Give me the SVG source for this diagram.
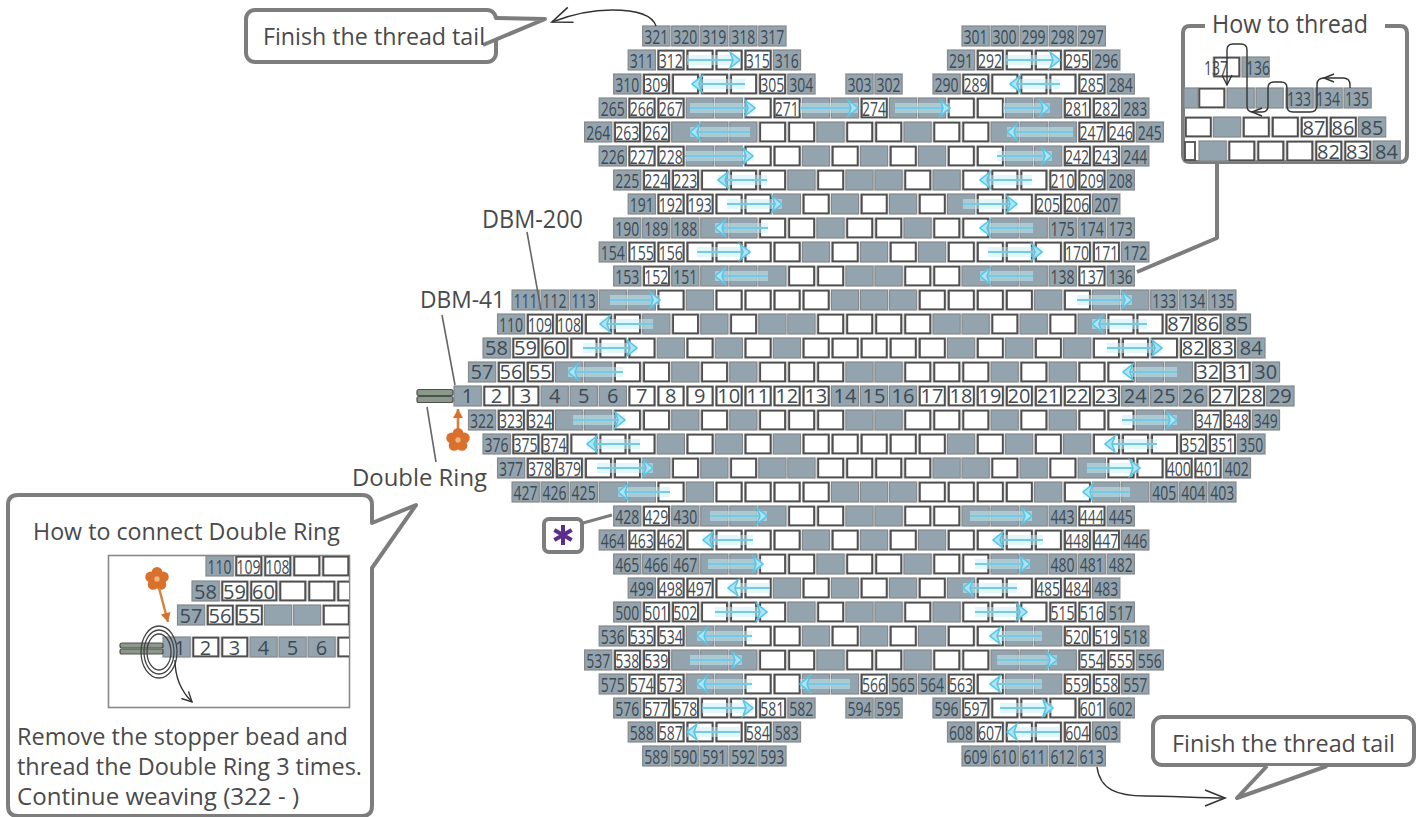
<svg xmlns="http://www.w3.org/2000/svg" width="1422" height="817" viewBox="0 0 1422 817">
<style>
.bg{fill:#94a4ae;stroke:#85898c;stroke-width:1.2}
.bh{fill:#9c9c9c}
.bw{fill:#fff;stroke:#4f4f4f;stroke-width:1.8}
.n text,.d text,text.n,text.d{font-family:"Open Sans","Noto Sans",sans-serif;fill:#3f4a53;text-anchor:middle;dominant-baseline:central}
.n text,text.n{font-size:20px;transform-box:fill-box;transform-origin:center;transform:scaleX(.7)}
.d text,text.d{font-size:20px}
.t{font-family:"Open Sans","Noto Sans",sans-serif;fill:#4a4a4a}
.cal{fill:#fff;stroke:#7d7d7d;stroke-width:4;stroke-linejoin:round}
.ld{fill:none;stroke:#666;stroke-width:1.6}
.th{fill:none;stroke:#333;stroke-width:1.4}
.band{fill:none;stroke:#c4f0fb;stroke-width:10;opacity:.5}
.line{fill:none;stroke:#74cbe6;stroke-width:2;marker-end:url(#ah)}
.or{fill:#d9702b}
.bar{fill:#8a9a88;stroke:#4f4f4f;stroke-width:1.2}
.ring{fill:none;stroke:#444;stroke-width:1.3}
</style>
<defs>
<marker id="ah" markerUnits="userSpaceOnUse" markerWidth="18" markerHeight="20" refX="13" refY="10" orient="auto"><path d="M3 2L13 10L3 18L6 10Z" fill="#a9e6f6" stroke="#5cc4e4" stroke-width="1.6"/></marker>
<marker id="oh" markerUnits="userSpaceOnUse" markerWidth="12" markerHeight="12" refX="10" refY="6" orient="auto"><path d="M1 1L10 6L1 11Z" fill="#d9702b"/></marker>
<marker id="bk" markerUnits="userSpaceOnUse" markerWidth="26" markerHeight="26" refX="22" refY="13" orient="auto"><path d="M2 5L22 13L2 21" fill="none" stroke="#333" stroke-width="1.6"/></marker>
<marker id="bks" markerUnits="userSpaceOnUse" markerWidth="14" markerHeight="14" refX="11" refY="7" orient="auto"><path d="M1 2L11 7L1 12" fill="none" stroke="#333" stroke-width="1.4"/></marker>
<clipPath id="cb"><rect x="109" y="556" width="240" height="150"/></clipPath>
<g id="fl"><g transform="scale(1.12)"><circle class="or" cy="-6" r="4.8"/><circle class="or" cx="5.7" cy="-1.85" r="4.8"/><circle class="or" cx="3.5" cy="4.85" r="4.8"/><circle class="or" cx="-3.5" cy="4.85" r="4.8"/><circle class="or" cx="-5.7" cy="-1.85" r="4.8"/><circle r="2.4" fill="#f3b57e"/></g></g>
<rect id="g" x="1" y="-10" width="27.2" height="20" class="bg"/>
<g id="w"><rect x="0.7" y="-10.5" width="28" height="21" class="bh"/><rect x="2.4" y="-9.3" width="24.8" height="18.6" class="bw"/></g>
<g id="p1"><use href="#g" x="0"/><use href="#g" x="29"/><use href="#g" x="58"/><use href="#g" x="87"/><use href="#g" x="116"/><use href="#g" x="319"/><use href="#g" x="348"/><use href="#g" x="377"/><use href="#g" x="406"/><use href="#g" x="435"/></g>
<g id="p2"><use href="#g" x="0"/><use href="#w" x="29"/><use href="#w" x="58"/><use href="#w" x="87"/><use href="#w" x="116"/><use href="#g" x="145"/><use href="#g" x="319"/><use href="#w" x="348"/><use href="#w" x="377"/><use href="#w" x="406"/><use href="#w" x="435"/><use href="#g" x="464"/></g>
<g id="p3"><use href="#g" x="0"/><use href="#w" x="29"/><use href="#w" x="58"/><use href="#w" x="87"/><use href="#w" x="116"/><use href="#w" x="145"/><use href="#g" x="174"/><use href="#g" x="232"/><use href="#g" x="261"/><use href="#g" x="319"/><use href="#w" x="348"/><use href="#w" x="377"/><use href="#w" x="406"/><use href="#w" x="435"/><use href="#w" x="464"/><use href="#g" x="493"/></g>
<g id="p4"><use href="#g" x="0"/><use href="#w" x="29"/><use href="#w" x="58"/><use href="#g" x="87"/><use href="#g" x="116"/><use href="#w" x="145"/><use href="#w" x="174"/><use href="#g" x="203"/><use href="#g" x="232"/><use href="#w" x="261"/><use href="#g" x="290"/><use href="#g" x="319"/><use href="#w" x="348"/><use href="#w" x="377"/><use href="#g" x="406"/><use href="#g" x="435"/><use href="#w" x="464"/><use href="#w" x="493"/><use href="#g" x="522"/></g>
<g id="p5"><use href="#g" x="0"/><use href="#w" x="29"/><use href="#w" x="58"/><use href="#g" x="87"/><use href="#g" x="116"/><use href="#g" x="145"/><use href="#w" x="174"/><use href="#w" x="203"/><use href="#g" x="232"/><use href="#w" x="261"/><use href="#w" x="290"/><use href="#g" x="319"/><use href="#w" x="348"/><use href="#w" x="377"/><use href="#g" x="406"/><use href="#g" x="435"/><use href="#g" x="464"/><use href="#w" x="493"/><use href="#w" x="522"/><use href="#g" x="551"/></g>
<g id="p6"><use href="#g" x="0"/><use href="#w" x="29"/><use href="#w" x="58"/><use href="#g" x="87"/><use href="#g" x="116"/><use href="#w" x="145"/><use href="#w" x="174"/><use href="#g" x="203"/><use href="#w" x="232"/><use href="#g" x="261"/><use href="#w" x="290"/><use href="#g" x="319"/><use href="#w" x="348"/><use href="#w" x="377"/><use href="#g" x="406"/><use href="#g" x="435"/><use href="#w" x="464"/><use href="#w" x="493"/><use href="#g" x="522"/></g>
<g id="p7"><use href="#g" x="0"/><use href="#w" x="29"/><use href="#w" x="58"/><use href="#w" x="87"/><use href="#w" x="116"/><use href="#w" x="145"/><use href="#g" x="174"/><use href="#w" x="203"/><use href="#g" x="232"/><use href="#g" x="261"/><use href="#w" x="290"/><use href="#g" x="319"/><use href="#w" x="348"/><use href="#w" x="377"/><use href="#w" x="406"/><use href="#w" x="435"/><use href="#w" x="464"/><use href="#g" x="493"/></g>
<g id="p8"><use href="#g" x="0"/><use href="#w" x="29"/><use href="#w" x="58"/><use href="#w" x="87"/><use href="#w" x="116"/><use href="#g" x="145"/><use href="#w" x="174"/><use href="#g" x="203"/><use href="#w" x="232"/><use href="#g" x="261"/><use href="#w" x="290"/><use href="#g" x="319"/><use href="#w" x="348"/><use href="#w" x="377"/><use href="#w" x="406"/><use href="#w" x="435"/><use href="#g" x="464"/></g>
<g id="p9"><use href="#g" x="0"/><use href="#g" x="29"/><use href="#g" x="58"/><use href="#g" x="87"/><use href="#g" x="116"/><use href="#w" x="145"/><use href="#w" x="174"/><use href="#g" x="203"/><use href="#w" x="232"/><use href="#w" x="261"/><use href="#g" x="290"/><use href="#w" x="319"/><use href="#w" x="348"/><use href="#g" x="377"/><use href="#g" x="406"/><use href="#g" x="435"/><use href="#g" x="464"/><use href="#g" x="493"/></g>
<g id="p10"><use href="#g" x="0"/><use href="#w" x="29"/><use href="#w" x="58"/><use href="#w" x="87"/><use href="#w" x="116"/><use href="#w" x="145"/><use href="#w" x="174"/><use href="#g" x="203"/><use href="#w" x="232"/><use href="#g" x="261"/><use href="#w" x="290"/><use href="#g" x="319"/><use href="#w" x="348"/><use href="#w" x="377"/><use href="#w" x="406"/><use href="#w" x="435"/><use href="#w" x="464"/><use href="#w" x="493"/><use href="#g" x="522"/></g>
<g id="p11"><use href="#g" x="0"/><use href="#w" x="29"/><use href="#g" x="58"/><use href="#g" x="87"/><use href="#g" x="116"/><use href="#g" x="145"/><use href="#w" x="174"/><use href="#w" x="203"/><use href="#g" x="232"/><use href="#g" x="261"/><use href="#w" x="290"/><use href="#w" x="319"/><use href="#g" x="348"/><use href="#g" x="377"/><use href="#g" x="406"/><use href="#g" x="435"/><use href="#w" x="464"/><use href="#g" x="493"/></g>
<g id="p12"><use href="#g" x="0"/><use href="#g" x="29"/><use href="#g" x="58"/><use href="#g" x="87"/><use href="#g" x="116"/><use href="#w" x="145"/><use href="#g" x="174"/><use href="#w" x="203"/><use href="#w" x="232"/><use href="#w" x="261"/><use href="#w" x="290"/><use href="#g" x="319"/><use href="#g" x="348"/><use href="#g" x="377"/><use href="#w" x="406"/><use href="#w" x="435"/><use href="#w" x="464"/><use href="#w" x="493"/><use href="#g" x="522"/><use href="#w" x="551"/><use href="#g" x="580"/><use href="#g" x="609"/><use href="#g" x="638"/><use href="#g" x="667"/><use href="#g" x="696"/></g>
<g id="p13"><use href="#g" x="0"/><use href="#w" x="29"/><use href="#w" x="58"/><use href="#w" x="87"/><use href="#w" x="116"/><use href="#g" x="145"/><use href="#w" x="174"/><use href="#g" x="203"/><use href="#w" x="232"/><use href="#g" x="261"/><use href="#g" x="290"/><use href="#w" x="319"/><use href="#w" x="348"/><use href="#w" x="377"/><use href="#w" x="406"/><use href="#g" x="435"/><use href="#g" x="464"/><use href="#w" x="493"/><use href="#g" x="522"/><use href="#w" x="551"/><use href="#g" x="580"/><use href="#w" x="609"/><use href="#w" x="638"/><use href="#w" x="667"/><use href="#w" x="696"/><use href="#g" x="725"/></g>
<g id="p14"><use href="#g" x="0"/><use href="#w" x="29"/><use href="#w" x="58"/><use href="#w" x="87"/><use href="#w" x="116"/><use href="#w" x="145"/><use href="#g" x="174"/><use href="#w" x="203"/><use href="#g" x="232"/><use href="#w" x="261"/><use href="#g" x="290"/><use href="#w" x="319"/><use href="#w" x="348"/><use href="#w" x="377"/><use href="#w" x="406"/><use href="#w" x="435"/><use href="#g" x="464"/><use href="#w" x="493"/><use href="#g" x="522"/><use href="#w" x="551"/><use href="#g" x="580"/><use href="#w" x="609"/><use href="#w" x="638"/><use href="#w" x="667"/><use href="#w" x="696"/><use href="#w" x="725"/><use href="#g" x="754"/></g>
<g id="p15"><use href="#g" x="0"/><use href="#w" x="29"/><use href="#w" x="58"/><use href="#g" x="87"/><use href="#g" x="116"/><use href="#w" x="145"/><use href="#w" x="174"/><use href="#g" x="203"/><use href="#w" x="232"/><use href="#g" x="261"/><use href="#w" x="290"/><use href="#w" x="319"/><use href="#w" x="348"/><use href="#g" x="377"/><use href="#g" x="406"/><use href="#w" x="435"/><use href="#w" x="464"/><use href="#w" x="493"/><use href="#g" x="522"/><use href="#w" x="551"/><use href="#g" x="580"/><use href="#w" x="609"/><use href="#w" x="638"/><use href="#g" x="667"/><use href="#g" x="696"/><use href="#w" x="725"/><use href="#w" x="754"/><use href="#g" x="783"/></g>
<g id="arrs">
<path d="M687 60H740"/><path d="M1006 60H1060"/>
<path d="M745 84H692"/><path d="M1060 84H1010"/>
<path d="M690 108H755"/><path d="M800 108H858"/><path d="M895 108H950"/><path d="M1003 108H1050"/>
<path d="M750 132H690"/><path d="M1073 132H1007"/>
<path d="M685 156H753"/><path d="M997 156H1052"/>
<path d="M767 180H718"/><path d="M1032 180H980"/>
<path d="M727 204H782"/><path d="M963 204H1017"/>
<path d="M768 228H715"/><path d="M1033 228H980"/>
<path d="M697 252H750"/><path d="M988 252H1042"/>
<path d="M768 276H715"/><path d="M1033 276H980"/>
<path d="M610 300H660"/><path d="M1077 300H1132"/>
<path d="M653 324H600"/><path d="M1147 324H1092"/>
<path d="M583 348H637"/><path d="M1107 348H1162"/>
<path d="M623 372H568"/><path d="M1177 372H1123"/>
<path d="M573 420H625"/><path d="M1122 420H1177"/>
<path d="M640 444H587"/><path d="M1157 444H1105"/>
<path d="M597 468H653"/><path d="M1087 468H1140"/>
<path d="M670 492H618"/><path d="M1130 492H1083"/>
<path d="M710 516H767"/><path d="M970 516H1032"/>
<path d="M753 540H703"/><path d="M1043 540H993"/>
<path d="M708 564H763"/><path d="M975 564H1030"/>
<path d="M770 588H728"/><path d="M1017 588H963"/>
<path d="M715 612H767"/><path d="M975 612H1027"/>
<path d="M752 636H697"/><path d="M1042 636H990"/>
<path d="M690 660H742"/><path d="M997 660H1057"/>
<path d="M752 684H697"/><path d="M850 684H800"/><path d="M1042 684H990"/>
<path d="M702 708H753"/><path d="M1000 708H1053"/>
<path d="M740 732H687"/><path d="M1060 732H1007"/>
</g>
</defs>
<rect width="1422" height="817" fill="#fff"/>
<g id="beadwork" transform="translate(453 0) scale(1.001 1)">
<g id="r1" class="n" transform="translate(188.5 36)"><use href="#p1"/><text x="14.5">321</text><text x="43.5">320</text><text x="72.5">319</text><text x="101.5">318</text><text x="130.5">317</text><text x="333.5">301</text><text x="362.5">300</text><text x="391.5">299</text><text x="420.5">298</text><text x="449.5">297</text></g>
<g id="r2" class="n" transform="translate(174 60)"><use href="#p2"/><text x="14.5">311</text><text x="43.5">312</text><text x="130.5">315</text><text x="159.5">316</text><text x="333.5">291</text><text x="362.5">292</text><text x="449.5">295</text><text x="478.5">296</text></g>
<g id="r3" class="n" transform="translate(159.5 84)"><use href="#p3"/><text x="14.5">310</text><text x="43.5">309</text><text x="159.5">305</text><text x="188.5">304</text><text x="246.5">303</text><text x="275.5">302</text><text x="333.5">290</text><text x="362.5">289</text><text x="478.5">285</text><text x="507.5">284</text></g>
<g id="r4" class="n" transform="translate(145 108)"><use href="#p4"/><text x="14.5">265</text><text x="43.5">266</text><text x="72.5">267</text><text x="188.5">271</text><text x="275.5">274</text><text x="478.5">281</text><text x="507.5">282</text><text x="536.5">283</text></g>
<g id="r5" class="n" transform="translate(130.5 132)"><use href="#p5"/><text x="14.5">264</text><text x="43.5">263</text><text x="72.5">262</text><text x="507.5">247</text><text x="536.5">246</text><text x="565.5">245</text></g>
<g id="r6" class="n" transform="translate(145 156)"><use href="#p6"/><text x="14.5">226</text><text x="43.5">227</text><text x="72.5">228</text><text x="478.5">242</text><text x="507.5">243</text><text x="536.5">244</text></g>
<g id="r7" class="n" transform="translate(159.5 180)"><use href="#p7"/><text x="14.5">225</text><text x="43.5">224</text><text x="72.5">223</text><text x="449.5">210</text><text x="478.5">209</text><text x="507.5">208</text></g>
<g id="r8" class="n" transform="translate(174 204)"><use href="#p8"/><text x="14.5">191</text><text x="43.5">192</text><text x="72.5">193</text><text x="420.5">205</text><text x="449.5">206</text><text x="478.5">207</text></g>
<g id="r9" class="n" transform="translate(159.5 228)"><use href="#p9"/><text x="14.5">190</text><text x="43.5">189</text><text x="72.5">188</text><text x="449.5">175</text><text x="478.5">174</text><text x="507.5">173</text></g>
<g id="r10" class="n" transform="translate(145 252)"><use href="#p10"/><text x="14.5">154</text><text x="43.5">155</text><text x="72.5">156</text><text x="478.5">170</text><text x="507.5">171</text><text x="536.5">172</text></g>
<g id="r11" class="n" transform="translate(159.5 276)"><use href="#p11"/><text x="14.5">153</text><text x="43.5">152</text><text x="72.5">151</text><text x="449.5">138</text><text x="478.5">137</text><text x="507.5">136</text></g>
<g id="r12" class="n" transform="translate(58 300)"><use href="#p12"/><text x="14.5">111</text><text x="43.5">112</text><text x="72.5">113</text><text x="652.5">133</text><text x="681.5">134</text><text x="710.5">135</text></g>
<g id="r13" transform="translate(43.5 324)"><use href="#p13"/><g class="n"><text x="14.5">110</text><text x="43.5">109</text><text x="72.5">108</text></g><g class="d"><text x="681.5">87</text><text x="710.5">86</text><text x="739.5">85</text></g></g>
<g id="r14" class="d" transform="translate(29 348)"><use href="#p14"/><text x="14.5">58</text><text x="43.5">59</text><text x="72.5">60</text><text x="710.5">82</text><text x="739.5">83</text><text x="768.5">84</text></g>
<g id="r15" class="d" transform="translate(14.5 372)"><use href="#p15"/><text x="14.5">57</text><text x="43.5">56</text><text x="72.5">55</text><text x="739.5">32</text><text x="768.5">31</text><text x="797.5">30</text></g>
<g id="r16" class="d" transform="translate(0 396)"><use href="#g" x="0"/><use href="#w" x="29"/><use href="#w" x="58"/><use href="#g" x="87"/><use href="#g" x="116"/><use href="#g" x="145"/><use href="#w" x="174"/><use href="#w" x="203"/><use href="#w" x="232"/><use href="#w" x="261"/><use href="#w" x="290"/><use href="#w" x="319"/><use href="#w" x="348"/><use href="#g" x="377"/><use href="#g" x="406"/><use href="#g" x="435"/><use href="#w" x="464"/><use href="#w" x="493"/><use href="#w" x="522"/><use href="#w" x="551"/><use href="#w" x="580"/><use href="#w" x="609"/><use href="#w" x="638"/><use href="#g" x="667"/><use href="#g" x="696"/><use href="#g" x="725"/><use href="#w" x="754"/><use href="#w" x="783"/><use href="#g" x="812"/>
<text x="14.5">1</text><text x="43.5">2</text><text x="72.5">3</text><text x="101.5">4</text><text x="130.5">5</text><text x="159.5">6</text><text x="188.5">7</text><text x="217.5">8</text><text x="246.5">9</text><text x="275.5">10</text><text x="304.5">11</text><text x="333.5">12</text><text x="362.5">13</text><text x="391.5">14</text><text x="420.5">15</text><text x="449.5">16</text><text x="478.5">17</text><text x="507.5">18</text><text x="536.5">19</text><text x="565.5">20</text><text x="594.5">21</text><text x="623.5">22</text><text x="652.5">23</text><text x="681.5">24</text><text x="710.5">25</text><text x="739.5">26</text><text x="768.5">27</text><text x="797.5">28</text><text x="826.5">29</text></g>
<g id="r17" class="n" transform="translate(14.5 420)"><use href="#p15"/><text x="14.5">322</text><text x="43.5">323</text><text x="72.5">324</text><text x="739.5">347</text><text x="768.5">348</text><text x="797.5">349</text></g>
<g id="r18" class="n" transform="translate(29 444)"><use href="#p14"/><text x="14.5">376</text><text x="43.5">375</text><text x="72.5">374</text><text x="710.5">352</text><text x="739.5">351</text><text x="768.5">350</text></g>
<g id="r19" class="n" transform="translate(43.5 468)"><use href="#p13"/><text x="14.5">377</text><text x="43.5">378</text><text x="72.5">379</text><text x="681.5">400</text><text x="710.5">401</text><text x="739.5">402</text></g>
<g id="r20" class="n" transform="translate(58 492)"><use href="#p12"/><text x="14.5">427</text><text x="43.5">426</text><text x="72.5">425</text><text x="652.5">405</text><text x="681.5">404</text><text x="710.5">403</text></g>
<g id="r21" class="n" transform="translate(159.5 516)"><use href="#p11"/><text x="14.5">428</text><text x="43.5">429</text><text x="72.5">430</text><text x="449.5">443</text><text x="478.5">444</text><text x="507.5">445</text></g>
<g id="r22" class="n" transform="translate(145 540)"><use href="#p10"/><text x="14.5">464</text><text x="43.5">463</text><text x="72.5">462</text><text x="478.5">448</text><text x="507.5">447</text><text x="536.5">446</text></g>
<g id="r23" class="n" transform="translate(159.5 564)"><use href="#p9"/><text x="14.5">465</text><text x="43.5">466</text><text x="72.5">467</text><text x="449.5">480</text><text x="478.5">481</text><text x="507.5">482</text></g>
<g id="r24" class="n" transform="translate(174 588)"><use href="#p8"/><text x="14.5">499</text><text x="43.5">498</text><text x="72.5">497</text><text x="420.5">485</text><text x="449.5">484</text><text x="478.5">483</text></g>
<g id="r25" class="n" transform="translate(159.5 612)"><use href="#p7"/><text x="14.5">500</text><text x="43.5">501</text><text x="72.5">502</text><text x="449.5">515</text><text x="478.5">516</text><text x="507.5">517</text></g>
<g id="r26" class="n" transform="translate(145 636)"><use href="#p6"/><text x="14.5">536</text><text x="43.5">535</text><text x="72.5">534</text><text x="478.5">520</text><text x="507.5">519</text><text x="536.5">518</text></g>
<g id="r27" class="n" transform="translate(130.5 660)"><use href="#p5"/><text x="14.5">537</text><text x="43.5">538</text><text x="72.5">539</text><text x="507.5">554</text><text x="536.5">555</text><text x="565.5">556</text></g>
<g id="r28" class="n" transform="translate(145 684)"><use href="#p4"/><text x="14.5">575</text><text x="43.5">574</text><text x="72.5">573</text><text x="275.5">566</text><text x="304.5">565</text><text x="333.5">564</text><text x="362.5">563</text><text x="478.5">559</text><text x="507.5">558</text><text x="536.5">557</text></g>
<g id="r29" class="n" transform="translate(159.5 708)"><use href="#p3"/><text x="14.5">576</text><text x="43.5">577</text><text x="72.5">578</text><text x="159.5">581</text><text x="188.5">582</text><text x="246.5">594</text><text x="275.5">595</text><text x="333.5">596</text><text x="362.5">597</text><text x="478.5">601</text><text x="507.5">602</text></g>
<g id="r30" class="n" transform="translate(174 732)"><use href="#p2"/><text x="14.5">588</text><text x="43.5">587</text><text x="130.5">584</text><text x="159.5">583</text><text x="333.5">608</text><text x="362.5">607</text><text x="449.5">604</text><text x="478.5">603</text></g>
<g id="r31" class="n" transform="translate(188.5 756)"><use href="#p1"/><text x="14.5">589</text><text x="43.5">590</text><text x="72.5">591</text><text x="101.5">592</text><text x="130.5">593</text><text x="333.5">609</text><text x="362.5">610</text><text x="391.5">611</text><text x="420.5">612</text><text x="449.5">613</text></g>
</g>
<g id="bead-arrows"><g class="band"><use href="#arrs"/></g><g class="line"><use href="#arrs"/></g></g>
<g id="connectors">
<path class="ld" d="M527 232L541 310"/>
<path class="ld" d="M442 315L455 385"/>
<path class="ld" d="M427 407L436 462"/>
<path class="th" marker-end="url(#bk)" d="M656 26C652 14 635 10 612 10C590 10 570 15 552 22"/>
<path class="th" marker-end="url(#bk)" d="M1097 767C1100 790 1118 796 1145 796C1170 796 1200 798 1225 798"/>
<path style="fill:none;stroke:#7d7d7d;stroke-width:4;stroke-linejoin:round" d="M1217 164V238L1137 272"/>
<path style="fill:none;stroke:#7d7d7d;stroke-width:3" d="M583 523L612 515"/>
<path style="fill:none;stroke:#d9803a;stroke-width:2.6" marker-end="url(#oh)" d="M458 431V409"/>
</g>
<g id="stopper"><rect class="bar" x="417" y="389.5" width="36" height="6" rx="2"/><rect class="bar" x="417" y="396.5" width="36" height="6" rx="2"/></g>
<use id="flower" href="#fl" x="458" y="440"/>
<g id="labels">
<text class="t" x="482" y="228" font-size="25" textLength="101" lengthAdjust="spacingAndGlyphs">DBM-200</text>
<text class="t" x="420" y="308" font-size="24" textLength="85" lengthAdjust="spacingAndGlyphs">DBM-41</text>
<text class="t" x="352" y="486" font-size="23" textLength="135" lengthAdjust="spacingAndGlyphs">Double Ring</text>
</g>
<g id="star-note"><rect class="cal" x="544" y="519" width="38" height="33" rx="5"/><path d="M563 525V545M554.3 530L571.7 540M554.3 540L571.7 530" fill="none" stroke="#5b2e8e" stroke-width="4"/></g>
<g id="finish-top"><rect class="cal" x="246" y="10" width="250" height="52" rx="9"/><path class="cal" d="M495 18L545 19L483 45"/><text class="t" x="263" y="45" font-size="23" textLength="222" lengthAdjust="spacingAndGlyphs">Finish the thread tail</text></g>
<g id="finish-bottom"><rect class="cal" x="1153" y="717" width="261" height="48" rx="9"/><path class="cal" d="M1267 766L1237 798L1327 766"/><text class="t" x="1172" y="752" font-size="23" textLength="223" lengthAdjust="spacingAndGlyphs">Finish the thread tail</text></g>
<g id="how-to-thread">
<path style="fill:#fff;stroke:#7d7d7d;stroke-width:4" d="M1205 26H1190Q1183 26 1183 33V155Q1183 162 1190 162H1400Q1407 162 1407 155V33Q1407 26 1400 26H1385"/>
<text class="t" x="1212" y="33" font-size="25" textLength="156" lengthAdjust="spacingAndGlyphs">How to thread</text>
<use href="#w" x="1212" y="67"/><use href="#g" x="1241" y="67"/>
<rect class="bg" x="1184" y="88" width="14" height="20"/><use href="#w" x="1197" y="98"/><use href="#g" x="1226" y="98"/><use href="#g" x="1255" y="98"/><use href="#g" x="1285" y="98"/><use href="#g" x="1314" y="98"/><use href="#g" x="1343" y="98"/>
<use href="#w" x="1183.5" y="127"/><use href="#g" x="1212.5" y="127"/><use href="#w" x="1241.5" y="127"/><use href="#w" x="1270.5" y="127"/><use href="#w" x="1299.5" y="127"/><use href="#w" x="1328.5" y="127"/><use href="#g" x="1357.5" y="127"/>
<rect class="bw" x="1185" y="142" width="10" height="18"/><use href="#g" x="1198" y="151"/><use href="#w" x="1227" y="151"/><use href="#w" x="1256" y="151"/><use href="#w" x="1285" y="151"/><use href="#w" x="1314" y="151"/><use href="#w" x="1343" y="151"/><use href="#g" x="1372" y="151"/>
<g class="n"><text x="1216" y="67">137</text><text x="1258" y="67">136</text><text x="1299" y="98">133</text><text x="1328" y="98">134</text><text x="1357" y="98">135</text></g>
<g class="d"><text x="1314" y="127">87</text><text x="1343" y="127">86</text><text x="1372" y="127">85</text><text x="1328.5" y="151">82</text><text x="1357.5" y="151">83</text><text x="1386.5" y="151">84</text></g>
<path class="th" marker-end="url(#bks)" d="M1350 88V85Q1350 78 1343 78H1324Q1317 78 1317 85V105Q1317 112 1310 112H1293Q1287 112 1287 106V88Q1287 82 1281 82H1274Q1268 82 1268 88V106Q1268 112 1262 112H1253Q1247 112 1247 106V50Q1247 44 1241 44H1233Q1227 44 1227 50V85"/>
<path class="th" d="M1262 108L1252 112L1262 116M1334 74L1324 78L1334 82"/>
</g>
<g id="connect-note">
<path class="cal" d="M18 495H362Q372 495 372 505V523L416 505L372 568V806Q372 816 362 816H18Q8 816 8 806V505Q8 495 18 495Z"/>
<text class="t" x="33" y="540" font-size="23" textLength="307" lengthAdjust="spacingAndGlyphs">How to connect Double Ring</text>
<rect x="108.500" y="555.500" width="241" height="152" fill="#fff" stroke="#888" stroke-width="1.6"/>
<g clip-path="url(#cb)">
<use href="#g" x="205" y="566"/><use href="#w" x="234" y="566"/><use href="#w" x="263" y="566"/><use href="#w" x="292" y="566"/><use href="#w" x="321" y="566"/>
<use href="#g" x="191" y="591"/><use href="#w" x="220" y="591"/><use href="#w" x="249" y="591"/><use href="#w" x="278" y="591"/><use href="#w" x="307" y="591"/><use href="#w" x="336" y="591"/>
<use href="#g" x="176.500" y="615"/><use href="#w" x="205.500" y="615"/><use href="#w" x="234.500" y="615"/><use href="#g" x="263.500" y="615"/><use href="#g" x="292.500" y="615"/><use href="#w" x="321.500" y="615"/>
<use href="#g" x="162" y="647"/><use href="#w" x="191" y="647"/><use href="#w" x="220" y="647"/><use href="#g" x="249" y="647"/><use href="#g" x="278" y="647"/><use href="#g" x="307" y="647"/><use href="#w" x="336" y="647"/>
</g>
<g class="n"><text x="219.500" y="566">110</text><text x="248.500" y="566">109</text><text x="277.500" y="566">108</text></g>
<g class="d"><text x="205.500" y="591">58</text><text x="234.500" y="591">59</text><text x="263.500" y="591">60</text><text x="191" y="615">57</text><text x="220" y="615">56</text><text x="249" y="615">55</text><text x="180" y="647">1</text><text x="205.500" y="647">2</text><text x="234.500" y="647">3</text><text x="263.500" y="647">4</text><text x="292.500" y="647">5</text><text x="321.500" y="647">6</text></g>
<rect class="bar" x="120" y="643" width="43" height="5" rx="2"/><rect class="bar" x="120" y="649" width="43" height="5" rx="2"/>
<ellipse class="ring" cx="159" cy="652" rx="18" ry="26"/><ellipse class="ring" cx="159" cy="652" rx="15" ry="22"/><ellipse class="ring" cx="159" cy="652" rx="12" ry="18"/>
<use href="#fl" x="157" y="579"/>
<path style="fill:none;stroke:#d9803a;stroke-width:2.4" marker-end="url(#oh)" d="M159 588L168 622"/>
<path class="th" marker-end="url(#bks)" d="M175 660C175 680 182 692 192 702"/>
<text class="t" x="17" y="745" font-size="24" textLength="331" lengthAdjust="spacingAndGlyphs">Remove the stopper bead and</text>
<text class="t" x="17" y="775" font-size="24" textLength="345" lengthAdjust="spacingAndGlyphs">thread the Double Ring 3 times.</text>
<text class="t" x="17" y="805" font-size="24" textLength="282" lengthAdjust="spacingAndGlyphs">Continue weaving (322 - )</text>
</g>
</svg>
